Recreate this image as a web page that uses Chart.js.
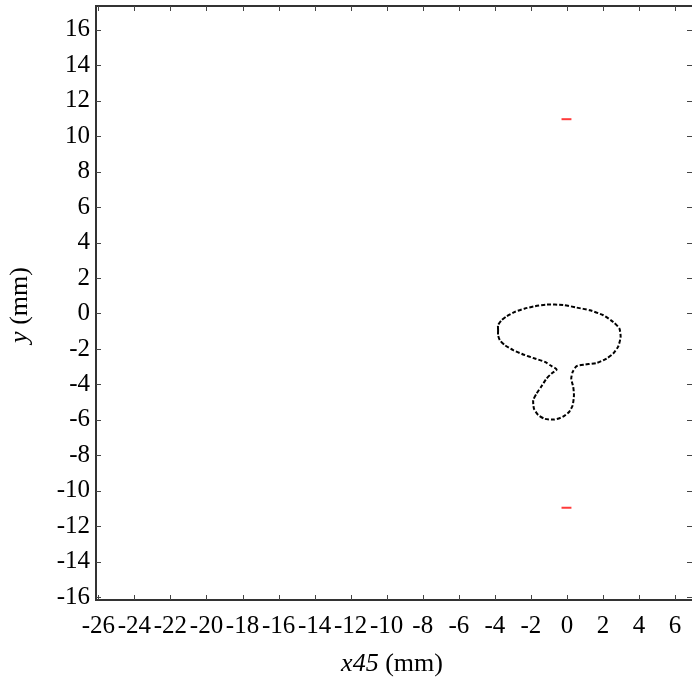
<!DOCTYPE html>
<html>
<head>
<meta charset="utf-8">
<script src="https://cdn.jsdelivr.net/npm/chart.js@4.4.1/dist/chart.umd.min.js"></script>
<style>
  html, body { margin: 0; padding: 0; background: #fff; }
  canvas { display: block; }
</style>
</head>
<body>
<canvas id="profile-chart" width="692" height="678"></canvas>
<script>
// Section outline (mm)
const curveX = [-3.82, -3.82, -3.63, -3.35, -2.89, -2.33, -1.78, -1.13, -0.2, 0.54, 1.28, 2.02, 2.57, 2.91, 2.98, 2.85, 2.57, 2.2, 1.65, 1.0, 0.54, 0.32, 0.24, 0.35, 0.39, 0.32, 0.13, -0.24, -0.72, -1.22, -1.59, -1.83, -1.87, -1.68, -1.41, -1.13, -0.85, -0.57, -0.85, -1.22, -1.78, -2.43, -2.98, -3.44, -3.72, -3.82, -3.82];
const curveY = [-0.94, -0.66, -0.38, -0.16, 0.09, 0.28, 0.41, 0.5, 0.48, 0.33, 0.18, -0.1, -0.48, -0.85, -1.32, -1.85, -2.26, -2.54, -2.79, -2.88, -2.97, -3.29, -3.67, -4.14, -4.61, -5.17, -5.54, -5.83, -5.98, -5.94, -5.73, -5.36, -4.89, -4.51, -4.1, -3.67, -3.38, -3.16, -2.97, -2.73, -2.54, -2.31, -2.07, -1.79, -1.51, -1.23, -0.94];

// Red reference marks
const markerX = [-0.3, 0.25];
const markerY = [10.95, -10.95];

// Axis ticks
const xTicks = [-26, -24, -22, -20, -18, -16, -14, -12, -10, -8, -6, -4, -2, 0, 2, 4, 6];
const yTicks = [-16, -14, -12, -10, -8, -6, -4, -2, 0, 2, 4, 6, 8, 10, 12, 14, 16];
const xRange = [-26.13, 6.94];
const yRange = [-16.15, 17.33];

const serif = '"Liberation Serif", "Times New Roman", serif';

const outline = curveX.map((x, i) => ({ x: x, y: curveY[i] }));
const markerSets = markerY.map(y => ({
    data: markerX.map(x => ({ x: x, y: y })),
    showLine: true,
    borderColor: '#ff3b3b',
    borderWidth: 2,
    pointRadius: 0
}));

// Inward ticks, top frame line and mixed-style axis titles
const framePlugin = {
    id: 'frame',
    afterDraw(chart) {
        const ctx = chart.ctx;
        const area = chart.chartArea;
        const xs = chart.scales.x;
        const ys = chart.scales.y;
        ctx.save();
        ctx.strokeStyle = '#333';
        ctx.lineWidth = 2;
        ctx.beginPath();
        ctx.moveTo(area.left - 1, area.top);
        ctx.lineTo(area.right, area.top);
        ctx.stroke();

        ctx.lineWidth = 1;
        ctx.strokeStyle = '#444';
        ctx.beginPath();
        xs.ticks.forEach(t => {
            const px = Math.round(xs.getPixelForValue(t.value)) + 0.5;
            ctx.moveTo(px, area.bottom);
            ctx.lineTo(px, area.bottom - 5);
            ctx.moveTo(px, area.top);
            ctx.lineTo(px, area.top + 5);
        });
        ys.ticks.forEach(t => {
            const py = Math.round(ys.getPixelForValue(t.value)) + 0.5;
            ctx.moveTo(area.left, py);
            ctx.lineTo(area.left + 5, py);
            ctx.moveTo(area.right, py);
            ctx.lineTo(area.right - 5, py);
        });
        ctx.stroke();

        // axis titles
        ctx.fillStyle = '#000';
        ctx.textBaseline = 'middle';
        const drawTitle = (italic, rest, cx, cy, rot) => {
            ctx.save();
            ctx.translate(cx, cy);
            ctx.rotate(rot);
            ctx.font = 'italic 26px ' + serif;
            const w1 = ctx.measureText(italic).width;
            ctx.font = '26px ' + serif;
            const w2 = ctx.measureText(rest).width;
            const x0 = -(w1 + w2) / 2;
            ctx.textAlign = 'left';
            ctx.font = 'italic 26px ' + serif;
            ctx.fillText(italic, x0, 0);
            ctx.font = '26px ' + serif;
            ctx.fillText(rest, x0 + w1, 0);
            ctx.restore();
        };
        drawTitle('x45', ' (mm)', 392, 664, 0);
        drawTitle('y', ' (mm)', 20, 305, -Math.PI / 2);
        ctx.restore();
    }
};

new Chart(document.getElementById('profile-chart'), {
    type: 'scatter',
    data: {
        datasets: [{
            data: outline,
            showLine: true,
            borderColor: '#000',
            borderWidth: 2,
            borderDash: [4, 2],
            pointRadius: 0,
            tension: 0.2
        }].concat(markerSets)
    },
    options: {
        responsive: false,
        animation: false,
        devicePixelRatio: 1,
        layout: { padding: { top: 6, left: 0, right: 0, bottom: 0 } },
        plugins: {
            legend: { display: false },
            tooltip: { enabled: false }
        },
        scales: {
            x: {
                type: 'linear',
                min: xRange[0],
                max: xRange[1],
                afterBuildTicks: s => { s.ticks = xTicks.map(v => ({ value: v })); },
                afterFit: s => {
                    s.height = 78;
                    s.paddingLeft = 0;
                    s.paddingRight = 0;
                },
                grid: { drawOnChartArea: false, drawTicks: false },
                border: { display: true, color: '#333', width: 2 },
                ticks: {
                    autoSkip: false,
                    maxRotation: 0,
                    minRotation: 0,
                    padding: 11,
                    color: '#000',
                    font: { family: serif, size: 25 }
                }
            },
            y: {
                type: 'linear',
                min: yRange[0],
                max: yRange[1],
                afterBuildTicks: s => { s.ticks = yTicks.map(v => ({ value: v })); },
                afterFit: s => {
                    s.width = 96;
                    s.paddingTop = 0;
                    s.paddingBottom = 0;
                },
                grid: { drawOnChartArea: false, drawTicks: false },
                border: { display: true, color: '#333', width: 2 },
                ticks: {
                    autoSkip: false,
                    padding: 6,
                    color: '#000',
                    font: { family: serif, size: 25 }
                }
            }
        }
    },
    plugins: [framePlugin]
});
</script>
</body>
</html>
